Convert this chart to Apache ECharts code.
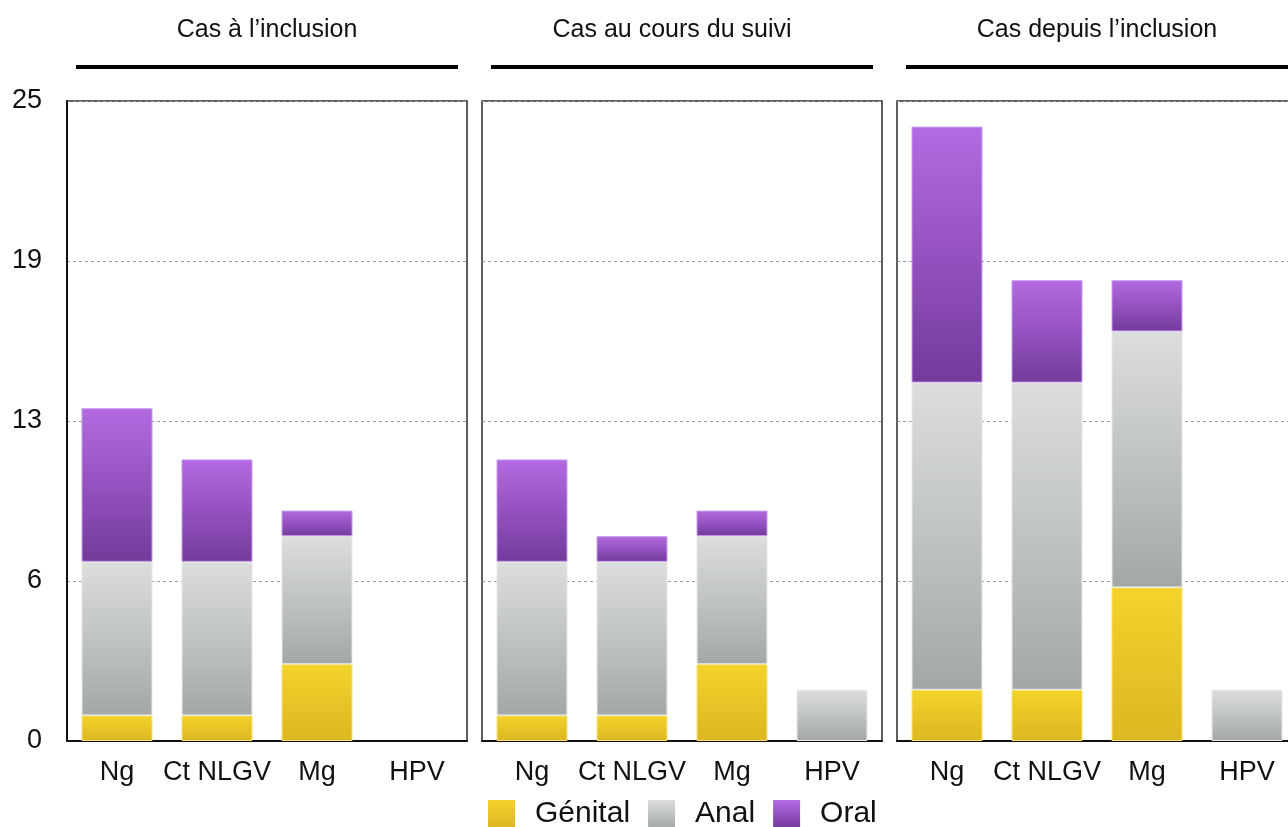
<!DOCTYPE html>
<html>
<head>
<meta charset="utf-8">
<script src="https://cdn.jsdelivr.net/npm/echarts@6/dist/echarts.min.js"></script>
<style>
	html, body { margin: 0; padding: 0; background: #fff; overflow: hidden; }
	/* a little wider than the window: the third panel runs past the right edge */
	#chart { width: 1300px; height: 827px; }
</style>
</head>
<body>
<div id="chart"></div>
<script>
var categories = ['Ng', 'Ct NLGV', 'Mg', 'HPV'];
var panelTitles = ['Cas à l\u2019inclusion', 'Cas au cours du suivi', 'Cas depuis l\u2019inclusion'];
var seriesNames = ['Génital', 'Anal', 'Oral'];

// one row per panel, one value per category
var genitalValues = [[1, 1, 3, 0], [1, 1, 3, 0], [2, 2, 6, 0]];
var analValues = [[6, 6, 5, 0], [6, 6, 5, 2], [12, 12, 10, 2]];
var oralValues = [[6, 4, 1, 0], [4, 1, 1, 0], [10, 4, 2, 0]];

var yMin = 0, yMax = 25, yStep = 6.25;

var fontFamily = '"Liberation Sans", Arial, Helvetica, sans-serif';

function grad(top, bottom) {
	return new echarts.graphic.LinearGradient(0, 0, 0, 1, [
		{ offset: 0, color: top },
		{ offset: 1, color: bottom }
	]);
}

var segColors = [
	grad('#f3d32b', '#dcb722'),
	grad('#dcdede', '#a3a8a6'),
	grad('#b46ae2', '#733a9c')
];
var segBorders = ['#f7e27a', '#e6e8e8', '#c99cec'];
var valueRows = [genitalValues, analValues, oralValues];

var panelLeft = [67, 482, 897];
var panelWidth = 400;
var panelTop = 101;
var panelHeight = 640;
// strip titles are not quite centred in the original (middle one sits left)
var titleCenter = [267, 672, 1097];

var grids = [], xAxes = [], yAxes = [], series = [], titles = [], graphics = [];

for (var p = 0; p < 3; p++) {
	grids.push({
		left: panelLeft[p], top: panelTop, width: panelWidth, height: panelHeight,
		show: true, borderColor: '#2a2a2a', borderWidth: 1.5, backgroundColor: 'transparent'
	});
	xAxes.push({
		type: 'category', gridIndex: p, data: categories,
		axisLine: { show: true, lineStyle: { color: '#111', width: 2 } },
		axisTick: { show: false },
		axisLabel: { interval: 0, fontSize: 27, color: '#111', fontFamily: fontFamily, margin: 18 }
	});
	yAxes.push({
		type: 'value', gridIndex: p, min: yMin, max: yMax, interval: yStep,
		axisLine: { show: p === 0, lineStyle: { color: '#111', width: 2 } },
		axisTick: { show: false },
		axisLabel: {
			show: p === 0, fontSize: 27, color: '#111', fontFamily: fontFamily, margin: 25,
			formatter: function (v) { return Math.round(v); }
		},
		splitLine: { show: true, lineStyle: { color: '#9a9a9a', type: [3, 3], width: 1 } }
	});
	for (var s = 0; s < 3; s++) {
		series.push({
			name: seriesNames[s], type: 'bar', stack: 'panel' + p,
			xAxisIndex: p, yAxisIndex: p, barWidth: 71,
			itemStyle: { color: segColors[s], borderColor: segBorders[s], borderWidth: 1 },
			data: valueRows[s][p].map(function (v) { return v === 0 ? null : v; })
		});
	}
	titles.push({
		text: panelTitles[p], left: titleCenter[p] - 5, top: 13, textAlign: 'center',
		textStyle: { fontSize: 25, fontWeight: 'normal', color: '#111', fontFamily: fontFamily }
	});
	graphics.push({
		type: 'line',
		shape: { x1: panelLeft[p] + 9, y1: 67, x2: panelLeft[p] + panelWidth - 9, y2: 67 },
		style: { stroke: '#000', lineWidth: 4 }
	});
}

var chart = echarts.init(document.getElementById('chart'));
chart.setOption({
	animation: false,
	backgroundColor: '#fff',
	title: titles,
	legend: {
		data: seriesNames, top: 799, left: 488, icon: 'rect', padding: 0,
		itemWidth: 27, itemHeight: 28, itemGap: 18,
		itemStyle: { borderWidth: 0 },
		textStyle: { fontSize: 30, color: '#111', fontFamily: fontFamily, padding: [0, 0, 0, 15] }
	},
	grid: grids,
	xAxis: xAxes,
	yAxis: yAxes,
	series: series,
	graphic: graphics
});
</script>
</body>
</html>
